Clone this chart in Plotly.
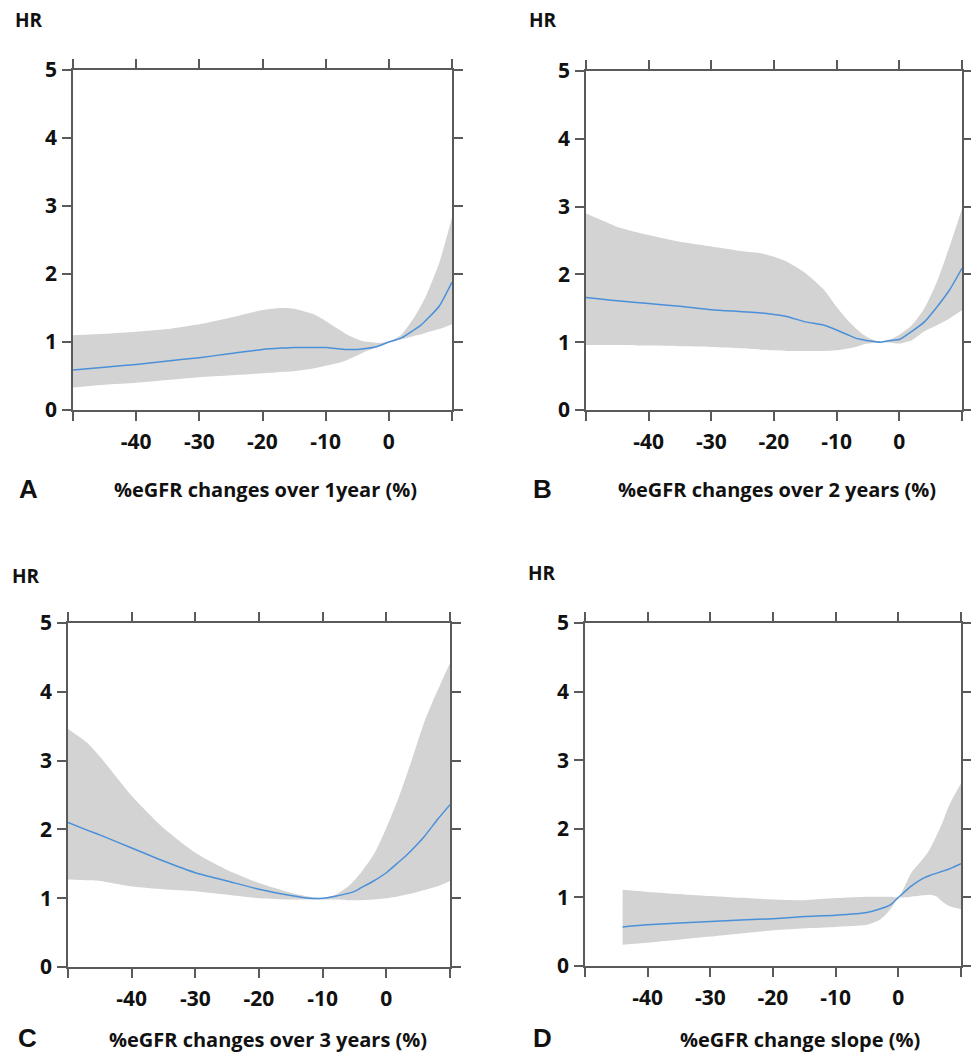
import plotly.graph_objects as go

# ---------------- data ----------------
# Panel A: %eGFR changes over 1 year
a_x = [-50, -45, -40, -35, -30, -25, -20, -17, -15, -12, -10, -8, -7, -6, -5, -4, -2, 0, 2, 4, 5, 6, 8, 10]
a_hr = [0.59, 0.63, 0.67, 0.72, 0.77, 0.83, 0.89, 0.91, 0.92, 0.92, 0.92, 0.90, 0.89, 0.89, 0.89, 0.90, 0.93, 1.00, 1.06, 1.18, 1.24, 1.33, 1.53, 1.88]
a_up = [1.10, 1.12, 1.15, 1.19, 1.26, 1.36, 1.47, 1.50, 1.49, 1.41, 1.31, 1.19, 1.13, 1.08, 1.04, 1.01, 0.99, 1.00, 1.11, 1.36, 1.52, 1.70, 2.17, 2.83]
a_lo = [0.33, 0.37, 0.40, 0.44, 0.48, 0.51, 0.54, 0.56, 0.57, 0.61, 0.65, 0.69, 0.72, 0.76, 0.80, 0.85, 0.92, 0.99, 1.04, 1.09, 1.11, 1.14, 1.19, 1.26]

# Panel B: %eGFR changes over 2 years
b_x = [-50, -47, -45, -40, -35, -30, -25, -22, -20, -18, -15, -12, -10, -8, -7, -6, -5, -4, -3, -1, 0, 2, 4, 6, 8, 10]
b_hr = [1.66, 1.63, 1.61, 1.57, 1.53, 1.48, 1.45, 1.43, 1.41, 1.38, 1.30, 1.25, 1.18, 1.10, 1.06, 1.04, 1.02, 1.01, 1.00, 1.03, 1.04, 1.16, 1.30, 1.52, 1.77, 2.09]
b_up = [2.90, 2.78, 2.70, 2.58, 2.48, 2.41, 2.34, 2.31, 2.26, 2.19, 2.02, 1.77, 1.52, 1.30, 1.21, 1.13, 1.07, 1.03, 1.01, 1.06, 1.11, 1.25, 1.50, 1.89, 2.41, 2.97]
b_lo = [0.96, 0.96, 0.96, 0.95, 0.94, 0.93, 0.91, 0.89, 0.88, 0.87, 0.87, 0.87, 0.88, 0.91, 0.93, 0.96, 0.98, 0.99, 1.00, 0.99, 0.98, 1.03, 1.16, 1.25, 1.35, 1.47]

# Panel C: %eGFR changes over 3 years
c_x = [-50, -47, -45, -40, -35, -30, -25, -20, -15, -12, -10, -8, -6, -5, -4, -2, 0, 2, 3, 4, 6, 8, 10]
c_hr = [2.10, 1.99, 1.92, 1.73, 1.54, 1.37, 1.25, 1.13, 1.04, 1.00, 1.00, 1.03, 1.07, 1.10, 1.15, 1.25, 1.37, 1.53, 1.61, 1.70, 1.90, 2.14, 2.36]
c_up = [3.46, 3.26, 3.06, 2.49, 2.02, 1.66, 1.41, 1.22, 1.08, 1.02, 1.00, 1.05, 1.17, 1.26, 1.37, 1.63, 2.02, 2.48, 2.74, 3.01, 3.57, 4.01, 4.42]
c_lo = [1.27, 1.26, 1.25, 1.17, 1.13, 1.10, 1.05, 1.00, 0.98, 0.98, 0.98, 0.98, 0.97, 0.97, 0.97, 0.98, 1.00, 1.03, 1.05, 1.07, 1.12, 1.17, 1.25]

# Panel D: %eGFR change slope
d_x = [-44, -40, -30, -20, -15, -10, -5, -3, -2, -1, 0, 1, 2, 4, 5, 6, 7, 8, 9, 10]
d_hr = [0.57, 0.60, 0.65, 0.69, 0.72, 0.74, 0.78, 0.83, 0.86, 0.91, 1.00, 1.08, 1.16, 1.28, 1.32, 1.35, 1.38, 1.41, 1.45, 1.49]
d_up = [1.11, 1.08, 1.02, 0.97, 0.96, 0.99, 1.01, 1.01, 1.01, 1.01, 1.00, 1.16, 1.35, 1.57, 1.70, 1.88, 2.08, 2.32, 2.50, 2.66]
d_lo = [0.31, 0.34, 0.43, 0.52, 0.55, 0.57, 0.60, 0.67, 0.75, 0.86, 1.00, 1.00, 1.01, 1.03, 1.04, 1.02, 0.94, 0.88, 0.85, 0.83]

x_tickvals = [-50, -40, -30, -20, -10, 0, 10]
x_ticktext = ["", "-40", "-30", "-20", "-10", "0", ""]
y_tickvals = [0, 1, 2, 3, 4, 5]

panel_letters = ["A", "B", "C", "D"]
x_titles = ["%eGFR changes over 1year (%)", "%eGFR changes over 2 years (%)",
            "%eGFR changes over 3 years (%)", "%eGFR change slope (%)"]

# ---------------- layout geometry (pixels) ----------------
W, H = 971, 1053
# (left, right, top, bottom) of each plot area in pixels
boxes = [(73, 452, 70, 410), (586, 962, 71, 410), (68, 450, 623, 967), (585, 961, 623, 966)]
hr_pos = [(29, 20), (543, 20), (26, 576), (542, 573)]
letter_pos = [(28, 489), (542, 489), (27, 1038), (542, 1038)]
xtitle_pos = [(265, 489), (777, 489), (268, 1039), (800, 1039)]

BAND = "#d3d3d3"
LINE = "#4a90d9"
AXC = "#5a5a5a"
TXT = "#111111"
FONT = "Open Sans"

data = [(a_x, a_hr, a_up, a_lo), (b_x, b_hr, b_up, b_lo), (c_x, c_hr, c_up, c_lo), (d_x, d_hr, d_up, d_lo)]

fig = go.Figure()
layout = dict(width=W, height=H, margin=dict(l=0, r=0, t=0, b=0, autoexpand=False),
              paper_bgcolor="white", plot_bgcolor="white", showlegend=False,
              template="none")
annotations = []

for i, (xs, hr, up, lo) in enumerate(data):
    n = i + 1
    xa = "x" if n == 1 else f"x{n}"
    ya = "y" if n == 1 else f"y{n}"
    fig.add_trace(go.Scatter(x=xs, y=lo, mode="lines", line=dict(width=0, color=BAND, shape="spline", smoothing=0.6),
                             xaxis=xa, yaxis=ya, hoverinfo="skip"))
    fig.add_trace(go.Scatter(x=xs, y=up, mode="lines", line=dict(width=0, color=BAND, shape="spline", smoothing=0.6),
                             fill="tonexty", fillcolor=BAND, xaxis=xa, yaxis=ya, hoverinfo="skip"))
    fig.add_trace(go.Scatter(x=xs, y=hr, mode="lines", line=dict(width=1.5, color=LINE, shape="spline", smoothing=0.6),
                             xaxis=xa, yaxis=ya))

    l, r, t, b = boxes[i]
    xkey = "xaxis" if n == 1 else f"xaxis{n}"
    ykey = "yaxis" if n == 1 else f"yaxis{n}"
    layout[xkey] = dict(domain=[l / W, r / W], range=[-50, 10], anchor=ya, automargin=False,
                        showline=True, mirror="ticks", linecolor=AXC, linewidth=1.5,
                        ticks="outside", ticklen=9, tickcolor=AXC, tickwidth=1.5,
                        tickvals=x_tickvals, ticktext=x_ticktext, ticklabelstandoff=3,
                        tickfont=dict(family=FONT, size=21, color=TXT, weight="bold"),
                        showgrid=False, zeroline=False, fixedrange=True)
    layout[ykey] = dict(domain=[1 - b / H, 1 - t / H], range=[0, 5], anchor=xa, automargin=False,
                        showline=True, mirror="ticks", linecolor=AXC, linewidth=1.5,
                        ticks="outside", ticklen=9, tickcolor=AXC, tickwidth=1.5,
                        tickvals=y_tickvals, ticklabelstandoff=1,
                        tickfont=dict(family=FONT, size=21, color=TXT, weight="bold"),
                        showgrid=False, zeroline=False, fixedrange=True)

    hx, hy = hr_pos[i]
    annotations.append(dict(text="HR", x=hx / W, y=1 - hy / H, xref="paper", yref="paper",
                            xanchor="center", yanchor="middle", showarrow=False,
                            font=dict(family=FONT, size=19, color=TXT, weight="bold")))
    lx, ly = letter_pos[i]
    annotations.append(dict(text=panel_letters[i], x=lx / W, y=1 - ly / H, xref="paper", yref="paper",
                            xanchor="center", yanchor="middle", showarrow=False,
                            font=dict(family="Liberation Sans", size=26, color=TXT, weight="bold")))
    tx, ty = xtitle_pos[i]
    annotations.append(dict(text=x_titles[i], x=tx / W, y=1 - ty / H, xref="paper", yref="paper",
                            xanchor="center", yanchor="middle", showarrow=False,
                            font=dict(family=FONT, size=20, color=TXT, weight="bold")))

layout["annotations"] = annotations
fig.update_layout(**layout)
fig.write_html("out.html", config={"displayModeBar": False},
               post_script="document.body.style.margin='0px';document.body.style.overflow='hidden';")
